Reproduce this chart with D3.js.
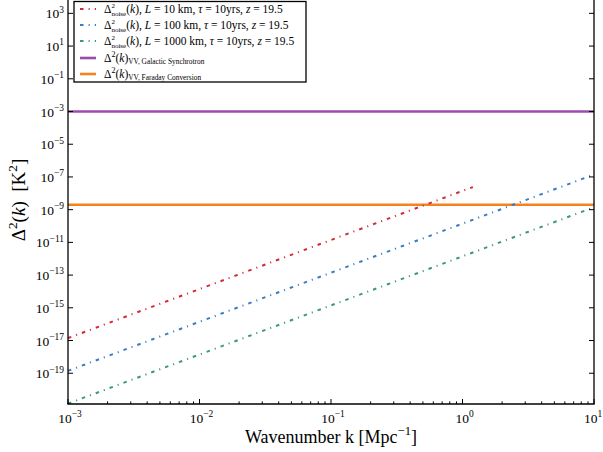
<!DOCTYPE html>
<html>
<head>
<meta charset="utf-8">
<script src="https://cdn.jsdelivr.net/npm/d3@7"></script>
<style>
  html, body { margin: 0; padding: 0; background: #fff; }
  svg { display: block; }
  text { font-family: "Liberation Serif", "DejaVu Serif", serif; fill: #000; white-space: pre; }
</style>
</head>
<body>
<div id="chart"></div>
<script>
// ---------------- data ----------------
const kRed   = [0.001, 0.01, 0.1, 1, 1.2];
const valRed = [1.4e-17, 1.4e-14, 1.4e-11, 1.4e-8, 2.4e-8];
const kBlue   = [0.001, 0.01, 0.1, 1, 10];
const valBlue = [1.4e-19, 1.4e-16, 1.4e-13, 1.4e-10, 1.4e-7];
const kGreen   = [0.001, 0.01, 0.1, 1, 10];
const valGreen = [1.4e-21, 1.4e-18, 1.4e-15, 1.4e-12, 1.4e-9];
const kFlat = [0.001, 10];
const valSynchrotron = [1e-3, 1e-3];
const valFaraday = [2e-9, 2e-9];
const xTickExps = [-3, -2, -1, 0, 1];
const yTickExps = [-19, -17, -15, -13, -11, -9, -7, -5, -3, -1, 1, 3];
const legendL = ["10", "100", "1000"];

// ---------------- layout ----------------
const W = 603, H = 452;
const pLeft = 68, pRight = 594, pBottom = 404, pTop = -3;
const colors = {red: "#d42a35", blue: "#3a7cc1", green: "#3b9a6e", purple: "#9a4cac", orange: "#f5821f"};
const dash = "3.5,5.1,1.1,5.1";

const svg = d3.select("#chart").append("svg").attr("width", W).attr("height", H);

const x = d3.scaleLog().domain([1e-3, 10]).range([pLeft, pRight]);
const y = d3.scaleLog().domain([Math.pow(10, -20.88), 1e4]).range([pBottom, pTop]);

svg.append("defs").append("clipPath").attr("id", "clip")
  .append("rect").attr("x", pLeft).attr("y", pTop).attr("width", pRight - pLeft).attr("height", pBottom - pTop);

const plot = svg.append("g").attr("clip-path", "url(#clip)");
const line = d3.line().x(d => x(d[0])).y(d => y(d[1]));

function series(ks, vs, color, da, w) {
  plot.append("path")
    .datum(ks.map((k, i) => [k, vs[i]]))
    .attr("d", line)
    .attr("fill", "none")
    .attr("stroke", color)
    .attr("stroke-width", w)
    .attr("stroke-dasharray", da)
    .attr("stroke-linecap", "butt");
}
series(kFlat, valSynchrotron, colors.purple, null, 2.6);
series(kFlat, valFaraday, colors.orange, null, 2.6);
series(kRed, valRed, colors.red, dash, 2);
series(kBlue, valBlue, colors.blue, dash, 2);
series(kGreen, valGreen, colors.green, dash, 2);

// ---------------- rich text helper (one <text>, positioned tspans) ----------------
function rich(parent, x0, y0, parts, base, anchor) {
  const t = parent.append("text").attr("font-size", base);
  let cx = 0, stackStart = 0, stackW = 0;
  parts.forEach(p => {
    let size = base, dy = 0;
    if (p.s === "sup") { size = base * 0.7; dy = -base * 0.42; }
    if (p.s === "supst") { size = 7; dy = -4.6; }
    if (p.s === "sub") { size = 7; dy = 3.4; }
    if (p.s === "subsmall") { size = base * 0.64; dy = base * 0.2; }
    const px = p.stack ? stackStart : cx;
    const ts = t.append("tspan")
      .attr("y", dy)
      .attr("font-size", size)
      .attr("font-style", p.i ? "italic" : "normal")
      .text(p.t);
    ts.attr("x", px);
    const w = ts.node().getComputedTextLength();
    if (p.stack) {
      cx = stackStart + Math.max(stackW, w);
    } else {
      stackStart = cx; stackW = w;
      cx += w;
    }
  });
  let sx = x0;
  if (anchor === "middle") sx = x0 - cx / 2;
  if (anchor === "end") sx = x0 - cx;
  t.attr("transform", `translate(${sx},${y0})`);
  t.node().__w = cx;
  return t;
}

// ---------------- axes ----------------
const minorX = [];
for (let e = -3; e < 1; e++) for (let m = 2; m <= 9; m++) minorX.push(m * Math.pow(10, e));

const axG = svg.append("g");
axG.selectAll(".xmaj").data(xTickExps).enter().append("line")
  .attr("x1", d => x(Math.pow(10, d))).attr("x2", d => x(Math.pow(10, d)))
  .attr("y1", pBottom).attr("y2", pBottom - 5).attr("stroke", "#000").attr("stroke-width", 1);
axG.selectAll(".xmin").data(minorX).enter().append("line")
  .attr("x1", d => x(d)).attr("x2", d => x(d))
  .attr("y1", pBottom).attr("y2", pBottom - 2.6).attr("stroke", "#000").attr("stroke-width", 1);
yTickExps.forEach(e => {
  const yy = y(Math.pow(10, e));
  axG.append("line").attr("x1", pLeft).attr("x2", pLeft + 5).attr("y1", yy).attr("y2", yy).attr("stroke", "#000");
  axG.append("line").attr("x1", pRight).attr("x2", pRight - 5).attr("y1", yy).attr("y2", yy).attr("stroke", "#000");
});
axG.append("line").attr("x1", pLeft).attr("x2", pLeft).attr("y1", pTop).attr("y2", pBottom).attr("stroke", "#000").attr("stroke-width", 1.3);
axG.append("line").attr("x1", pRight).attr("x2", pRight).attr("y1", pTop).attr("y2", pBottom).attr("stroke", "#000").attr("stroke-width", 1.3);
axG.append("line").attr("x1", pLeft - 0.65).attr("x2", pRight + 0.65).attr("y1", pBottom).attr("y2", pBottom).attr("stroke", "#000").attr("stroke-width", 1.3);

const tickSize = 13.5;
xTickExps.forEach(e => {
  const parts = [{t: "10"}, {t: e < 0 ? "\u2212" + (-e) : String(e), s: "sup"}];
  const cxp = Math.min(x(Math.pow(10, e)) + 2, W - 10);
  rich(svg, cxp, pBottom + 19, parts, tickSize, "middle");
});
yTickExps.forEach(e => {
  const parts = [{t: "10"}, {t: e < 0 ? "\u2212" + (-e) : String(e), s: "sup"}];
  rich(svg, pLeft - 4, y(Math.pow(10, e)) + 5, parts, tickSize, "end");
});

rich(svg, (pLeft + pRight) / 2, 443, [
  {t: "Wavenumber k [Mpc"}, {t: "\u22121", s: "sup"}, {t: "]"}
], 18, "middle");

const yl = rich(svg, 0, 0, [
  {t: "\u0394"}, {t: "2", s: "sup"}, {t: "("}, {t: "k", i: true}, {t: ")  [K"}, {t: "2", s: "sup"}, {t: "]"}
], 19, "start");
yl.attr("transform", `translate(25, ${200 + yl.node().__w / 2}) rotate(-90)`);

// ---------------- legend ----------------
const lg = svg.append("g");
lg.append("rect").attr("x", 74).attr("y", 1.5).attr("width", 232).attr("height", 80.5)
  .attr("fill", "#fff").attr("stroke", "#000").attr("stroke-width", 1.3);
const legRows = [9, 25, 41, 58, 74];
const legColors = [colors.red, colors.blue, colors.green];
legendL.forEach((L, i) => {
  const yy = legRows[i];
  lg.append("line").attr("x1", 80).attr("x2", 96).attr("y1", yy).attr("y2", yy)
    .attr("stroke", legColors[i]).attr("stroke-width", 2).attr("stroke-dasharray", dash);
  rich(lg, 104, yy + 4, [
    {t: "\u0394"}, {t: "2", s: "supst"}, {t: "noise", s: "sub", stack: true},
    {t: "("}, {t: "k", i: true}, {t: "), "}, {t: "L", i: true},
    {t: " = " + L + " km, "}, {t: "\u03C4", i: true}, {t: " = 10yrs, "},
    {t: "z", i: true}, {t: " = 19.5"}
  ], 11.5, "start");
});
[[colors.purple, "VV, Galactic Synchrotron"], [colors.orange, "VV, Faraday Conversion"]].forEach((d, j) => {
  const yy = legRows[3 + j];
  lg.append("line").attr("x1", 80).attr("x2", 96).attr("y1", yy).attr("y2", yy)
    .attr("stroke", d[0]).attr("stroke-width", 2.6);
  rich(lg, 104, yy + 4, [
    {t: "\u0394"}, {t: "2", s: "sup"}, {t: "("}, {t: "k", i: true}, {t: ")"},
    {t: d[1], s: "subsmall"}
  ], 11.5, "start");
});
</script>
</body>
</html>
